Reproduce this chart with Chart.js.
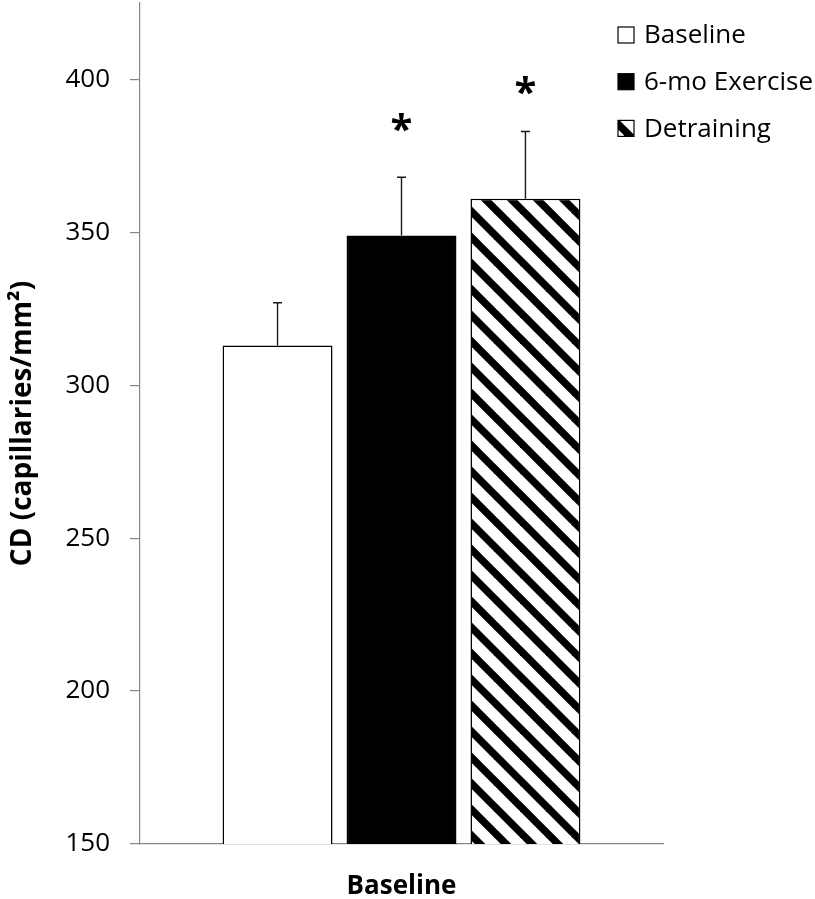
<!DOCTYPE html>
<html>
<head>
<meta charset="utf-8">
<script src="https://cdn.jsdelivr.net/npm/chart.js@4/dist/chart.umd.min.js"></script>
<style>
  html, body { margin: 0; padding: 0; background: #fff; }
  #wrap { width: 815px; height: 899px; }
</style>
</head>
<body>
<div id="wrap"><canvas id="barChart" width="815" height="899"></canvas></div>
<script>
'use strict';
// Data
const categories = ['Baseline'];
const seriesLabels = ['Baseline', '6-mo Exercise', 'Detraining'];
const means = [313, 349, 361];
const upperErrors = [14, 19, 22];
const starValues = [null, 386, 398];
const yTicks = [150, 200, 250, 300, 350, 400];

const axisGray = '#878787';
const fontFamily = "'Open Sans', 'Liberation Sans', sans-serif";

// diagonal stripe fill for the Detraining bar
function makeHatch() {
  const size = 26;
  const c = document.createElement('canvas');
  c.width = size;
  c.height = size;
  const g = c.getContext('2d');
  g.fillStyle = '#fff';
  g.fillRect(0, 0, size, size);
  g.strokeStyle = '#000';
  g.lineWidth = 7.5;
  for (let k = -1; k <= 1; k++) {
    g.beginPath();
    g.moveTo(-size, k * size - size);
    g.lineTo(2 * size, k * size + 2 * size);
    g.stroke();
  }
  return g.createPattern(c, 'repeat');
}
const hatch = makeHatch();
const fills = ['#ffffff', '#000000', hatch];

// error bars (upper only) and significance stars
const errorBarPlugin = {
  id: 'errorBars',
  afterDatasetsDraw(chart) {
    const ctx = chart.ctx;
    const y = chart.scales.y;
    ctx.save();
    chart.data.datasets.forEach(function (ds, i) {
      const bar = chart.getDatasetMeta(i).data[0];
      if (!bar) return;
      const top = y.getPixelForValue(means[i] + upperErrors[i]);
      ctx.strokeStyle = '#1a1a1a';
      ctx.lineWidth = 1.4;
      ctx.beginPath();
      ctx.moveTo(bar.x, bar.y);
      ctx.lineTo(bar.x, top);
      ctx.moveTo(bar.x - 4.5, top);
      ctx.lineTo(bar.x + 4.5, top);
      ctx.stroke();

      if (starValues[i] !== null) {
        ctx.font = 'bold 40px ' + fontFamily;
        ctx.fillStyle = '#000';
        ctx.textAlign = 'center';
        ctx.textBaseline = 'alphabetic';
        const m = ctx.measureText('*');
        const cy = y.getPixelForValue(starValues[i]);
        ctx.fillText('*', bar.x, cy + (m.actualBoundingBoxAscent - m.actualBoundingBoxDescent) / 2);
      }
    });
    ctx.restore();
  }
};

// legend drawn inside the plot, top right
const legendPlugin = {
  id: 'insideLegend',
  afterDraw(chart) {
    const ctx = chart.ctx;
    ctx.save();
    ctx.font = '26px ' + fontFamily;
    ctx.textBaseline = 'middle';
    ctx.textAlign = 'left';
    chart.data.datasets.forEach(function (ds, i) {
      const cy = 35 + i * 46.7;
      ctx.fillStyle = ds.backgroundColor;
      ctx.fillRect(618, cy - 8, 16, 16);
      ctx.strokeStyle = '#000';
      ctx.lineWidth = 1.2;
      ctx.strokeRect(618, cy - 8, 16, 16);
      ctx.fillStyle = '#000';
      ctx.fillText(ds.label, 644, cy + 1);
    });
    ctx.restore();
  }
};

const barChart = document.getElementById('barChart');
new Chart(barChart, {
  type: 'bar',
  data: {
    labels: categories,
    datasets: seriesLabels.map(function (label, i) {
      return {
        label: label,
        data: [means[i]],
        backgroundColor: fills[i],
        borderColor: '#000',
        borderWidth: 1.5,
        categoryPercentage: 0.711,
        barPercentage: 0.887
      };
    })
  },
  options: {
    responsive: false,
    animation: false,
    layout: {
      padding: { left: 0, top: 3, right: 152, bottom: 0 }
    },
    plugins: {
      legend: { display: false },
      tooltip: { enabled: false }
    },
    scales: {
      x: {
        grid: { display: false, drawTicks: false },
        border: { display: true, color: axisGray, width: 1.2 },
        ticks: {
          color: '#000',
          padding: 27,
          font: { family: fontFamily, size: 26, weight: 'bold', lineHeight: 1.2 }
        },
        afterFit(scale) {
          scale.height = 55;
          scale.paddingLeft = 0;
          scale.paddingRight = 0;
        }
      },
      y: {
        min: 150,
        max: 425,
        afterBuildTicks(scale) {
          scale.ticks = yTicks.map(function (v) { return { value: v }; });
        },
        afterFit(scale) {
          scale.width = 140;
          scale.paddingTop = 0;
          scale.paddingBottom = 0;
        },
        grid: {
          drawOnChartArea: false,
          drawTicks: true,
          tickLength: 10,
          color: axisGray,
          lineWidth: 1.2
        },
        border: { display: true, color: axisGray, width: 1.2 },
        ticks: {
          color: '#000',
          padding: 20,
          font: { family: fontFamily, size: 26, lineHeight: 1.2 }
        },
        title: {
          display: true,
          text: 'CD (capillaries/mm²)',
          color: '#000',
          padding: { top: 6, bottom: 0 },
          font: { family: fontFamily, size: 28, weight: 'bold', lineHeight: 1.2 }
        }
      }
    }
  },
  plugins: [errorBarPlugin, legendPlugin]
});
</script>
</body>
</html>
